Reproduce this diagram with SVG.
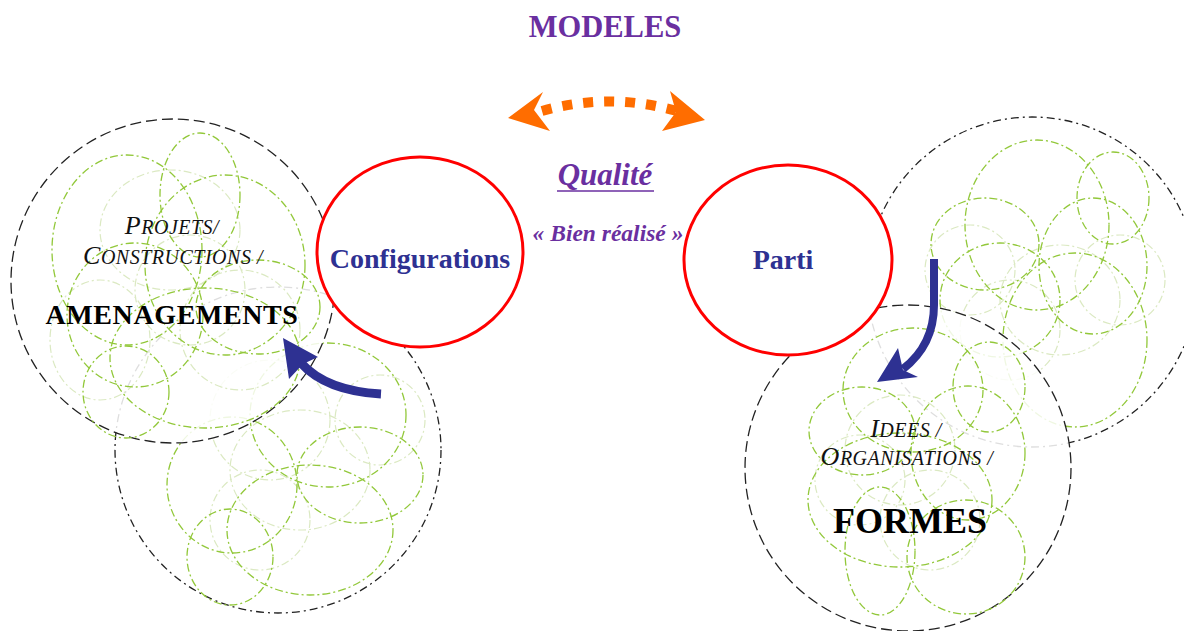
<svg xmlns="http://www.w3.org/2000/svg" width="1184" height="631" viewBox="0 0 1184 631">
<style>
.g{fill:none;stroke:#92c83a;stroke-width:1.3;stroke-dasharray:8 3 2 3}
.gf{fill:none;stroke:#dbe9c2;stroke-width:1.2;stroke-dasharray:8 3 2 3}
.bd{fill:none;stroke:#222;stroke-width:1.3;stroke-dasharray:11 5}
.bdd{fill:none;stroke:#222;stroke-width:1.3;stroke-dasharray:8 4 2 4}
.veil{fill:#fff;fill-opacity:0.85}
.red{fill:#fff;stroke:#f00;stroke-width:3}
.lbl{font-family:"Liberation Serif",serif;font-weight:bold;fill:#2e3192;font-size:28px;text-anchor:middle}
.it{font-family:"Liberation Serif",serif;font-style:italic;fill:#111;text-anchor:middle;font-size:20px;letter-spacing:0.5px}
.big{font-family:"Liberation Serif",serif;font-weight:bold;fill:#000;text-anchor:middle}
.pur{font-family:"Liberation Serif",serif;font-weight:bold;fill:#6a2fa0;text-anchor:middle}
.blue{fill:#2e3192}
.or{fill:#ff6d00}
</style>
<g id="cluster-lower-left">
<circle class="bdd" cx="278" cy="450" r="163"/>
<ellipse class="gf" cx="300" cy="470" rx="70" ry="60"/>
<ellipse class="gf" cx="270" cy="420" rx="60" ry="60"/>
<ellipse class="gf" cx="380" cy="420" rx="45" ry="45"/>
<ellipse class="gf" cx="260" cy="520" rx="50" ry="50"/>
<ellipse class="g" cx="328" cy="415" rx="78" ry="72"/>
<ellipse class="g" cx="360" cy="475" rx="63" ry="48"/>
<ellipse class="g" cx="232" cy="485" rx="65" ry="68"/>
<ellipse class="g" cx="230" cy="557" rx="43" ry="48"/>
<ellipse class="g" cx="310" cy="530" rx="83" ry="65"/>
</g>
<g id="amenagements">
<circle class="veil" cx="173" cy="281" r="162"/>
<circle class="bd" cx="173" cy="281" r="162"/>
<ellipse class="gf" cx="170" cy="230" rx="70" ry="60"/>
<ellipse class="gf" cx="240" cy="330" rx="60" ry="60"/>
<ellipse class="gf" cx="100" cy="340" rx="50" ry="60"/>
<ellipse class="gf" cx="190" cy="290" rx="55" ry="55"/>
<ellipse class="g" cx="127" cy="250" rx="75" ry="95"/>
<ellipse class="g" cx="200" cy="195" rx="40" ry="62"/>
<ellipse class="g" cx="225" cy="265" rx="80" ry="90"/>
<ellipse class="g" cx="135" cy="315" rx="68" ry="72"/>
<ellipse class="g" cx="258" cy="307" rx="62" ry="47"/>
<ellipse class="g" cx="126" cy="392" rx="43" ry="46"/>
<ellipse class="g" cx="205" cy="358" rx="95" ry="70"/>
<text class="it" x="172" y="234"><tspan font-size="26">P</tspan>ROJETS/</text>
<text class="it" x="173" y="264"><tspan font-size="26">C</tspan>ONSTRUCTIONS /</text>
<text class="big" x="172" y="324" font-size="28" letter-spacing="0.6">AMENAGEMENTS</text>
</g>
<g id="cluster-upper-right">
<circle class="bdd" cx="1032" cy="282" r="165"/>
<ellipse class="gf" cx="1060" cy="300" rx="60" ry="55"/>
<ellipse class="gf" cx="1010" cy="330" rx="50" ry="50"/>
<ellipse class="gf" cx="1120" cy="280" rx="45" ry="45"/>
<ellipse class="gf" cx="970" cy="270" rx="45" ry="45"/>
<ellipse class="g" cx="1037" cy="225" rx="72" ry="85"/>
<ellipse class="g" cx="1113" cy="198" rx="36" ry="46"/>
<ellipse class="g" cx="985" cy="244" rx="54" ry="46"/>
<ellipse class="g" cx="1093" cy="266" rx="54" ry="68"/>
<ellipse class="g" cx="1075" cy="340" rx="72" ry="87"/>
<ellipse class="g" cx="1000" cy="300" rx="60" ry="57"/>
</g>
<g id="formes">
<circle class="veil" cx="908" cy="468" r="163"/>
<circle class="bd" cx="908" cy="468" r="163"/>
<ellipse class="gf" cx="900" cy="450" rx="55" ry="55"/>
<ellipse class="gf" cx="930" cy="520" rx="50" ry="50"/>
<ellipse class="gf" cx="860" cy="480" rx="45" ry="45"/>
<ellipse class="g" cx="913" cy="390" rx="70" ry="62"/>
<ellipse class="g" cx="862" cy="431" rx="53" ry="44"/>
<ellipse class="g" cx="968" cy="453" rx="57" ry="67"/>
<ellipse class="g" cx="900" cy="500" rx="92" ry="67"/>
<ellipse class="g" cx="880" cy="551" rx="35" ry="64"/>
<ellipse class="g" cx="966" cy="557" rx="59" ry="57"/>
<ellipse class="g" cx="989" cy="387" rx="36" ry="45"/>
<text class="it" x="906" y="437"><tspan font-size="26">I</tspan>DEES /</text>
<text class="it" x="907" y="465"><tspan font-size="26">O</tspan>RGANISATIONS /</text>
<text class="big" x="910" y="533" font-size="36">FORMES</text>
</g>
<g id="configurations">
<ellipse class="red" cx="420" cy="252" rx="103" ry="95"/>
<text class="lbl" x="420" y="268">Configurations</text>
</g>
<g id="parti">
<ellipse class="red" cx="788" cy="260" rx="104" ry="95"/>
<text class="lbl" x="783" y="269">Parti</text>
</g>
<g id="connectors">
<path d="M381 394 C346 392 318 382 301 363" fill="none" stroke="#2e3192" stroke-width="9"/>
<polygon class="blue" points="283,338 318,357 303,364 289,379"/>
<path d="M934 259 L934 305 C934 335 921 355 903 369" fill="none" stroke="#2e3192" stroke-width="8"/>
<polygon class="blue" points="877,382 898,348 903,370 918,377"/>
<path d="M542 111 Q609 92 677 111" fill="none" stroke="#ff6d00" stroke-width="10" stroke-dasharray="10 11"/>
<polygon class="or" points="508,118 543,92 534,110 550,131"/>
<polygon class="or" points="705,120 670,91 676,112 662,131"/>
</g>
<g id="titles">
<text class="pur" x="605" y="37" font-size="30.5">MODELES</text>
<text class="pur" x="605" y="185" font-size="31" font-style="italic">Qualité</text>
<line x1="557" y1="191" x2="654" y2="191" stroke="#6a2fa0" stroke-width="1.5"/>
<text class="pur" x="608" y="241" font-size="23.5" font-style="italic">« Bien réalisé »</text>
</g>
</svg>
